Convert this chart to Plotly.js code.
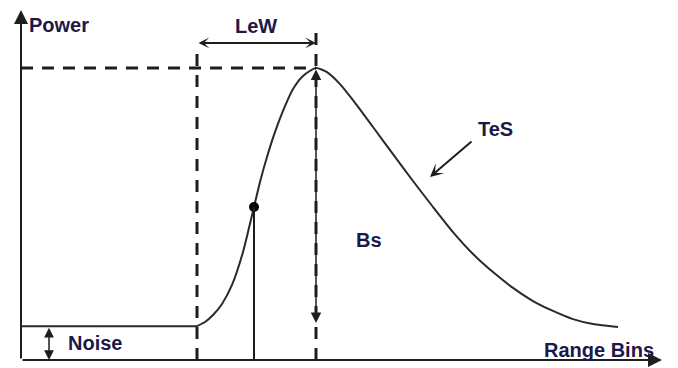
<!DOCTYPE html>
<html>
<head>
<meta charset="utf-8">
<script src="https://cdn.plot.ly/plotly-3.0.1.min.js"></script>
<style>html,body{margin:0;padding:0;background:#fff;}#chart{width:678px;height:368px;}</style>
</head>
<body>
<div id="chart"></div>
<script>
// Waveform (schematic units, peak power = 100)
const noiseBins  = [0, 17.6];
const noisePower = [11.6, 11.6];
const rangeBins = [17.6, 18.4, 19.2, 20.1, 21.1, 22.2, 23.3, 23.9, 24.6, 25.3, 26.2, 27.2, 28.2, 29.5, 30.6, 31.9, 33.2, 35.2, 37.2, 39.2, 41.2, 43.2, 45.2, 47.2, 49.2, 51.2, 53.2, 55.2, 57.2, 59.7];
const power     = [11.6, 13.0, 15.4, 19.2, 25.7, 37.0, 52.4, 61.0, 69.5, 77.1, 85.3, 92.8, 97.3, 100, 98.6, 94.5, 89.0, 79.8, 70.5, 61.3, 52.4, 43.8, 36.3, 30.1, 24.7, 20.2, 16.8, 14.0, 12.3, 11.3];

// Key waveform parameters
const noiseLevel = 11.6;
const leadingEdgeStart = 17.6;
const peakBin = 29.5;
const peakPower = 100;
const pointBin = 23.3;
const pointPower = 52.4;

// Axis extents (in data units)
const xAxisEnd = 64.1;
const yAxisEnd = 119.9;

// Labels
const labels = {
  power: "Power",
  rangeBins: "Range Bins",
  lew: "LeW",
  tes: "TeS",
  bs: "Bs",
  noise: "Noise"
};

const ink = "#1e1e1e";
const textColor = "#1c1848";
const dashPat = "12px,9px";
const font = {family: "Liberation Sans, Arial, sans-serif", size: 20, color: textColor};

const traces = [
  {
    x: noiseBins, y: noisePower, type: "scatter", mode: "lines",
    line: {color: "#2a2a2a", width: 2}, hoverinfo: "skip"
  },
  {
    x: rangeBins, y: power, type: "scatter", mode: "lines",
    line: {color: "#2a2a2a", width: 2, shape: "spline", smoothing: 0.6},
    hoverinfo: "skip"
  },
  {
    x: [pointBin], y: [pointPower], type: "scatter", mode: "markers",
    marker: {color: "#000", size: 10}, hoverinfo: "skip"
  }
];

const shapes = [
  {type: "line", xref: "x", yref: "y", x0: 0, x1: peakBin, y0: peakPower, y1: peakPower,
   line: {color: ink, width: 3, dash: dashPat}},
  {type: "line", xref: "x", yref: "y", x0: leadingEdgeStart, x1: leadingEdgeStart, y0: 0, y1: 107.5,
   line: {color: ink, width: 3, dash: dashPat}},
  {type: "line", xref: "x", yref: "y", x0: peakBin, x1: peakBin, y0: 0, y1: 112,
   line: {color: ink, width: 3, dash: dashPat}},
  {type: "line", xref: "x", yref: "y", x0: pointBin, x1: pointBin, y0: 0, y1: pointPower,
   line: {color: ink, width: 2}}
];

function arrow(xh, yh, xt, yt, opts) {
  return Object.assign({
    x: xh, y: yh, ax: xt, ay: yt, xref: "x", yref: "y", axref: "x", ayref: "y",
    showarrow: true, arrowhead: 3, arrowsize: 1, arrowwidth: 2, arrowcolor: ink,
    standoff: 0, startstandoff: 0, text: ""
  }, opts || {});
}

function label(txt, x, y, anchor) {
  return {x: x, y: y, xref: "x", yref: "y", text: "<b>" + txt + "</b>", showarrow: false,
          font: font, xanchor: anchor || "center", yanchor: "middle"};
}

const annotations = [
  arrow(0, yAxisEnd, 0, 0, {arrowhead: 2, arrowsize: 1.4}),
  arrow(xAxisEnd, 0, 0, 0, {arrowhead: 2, arrowsize: 1.4}),
  arrow(peakBin, 108.6, leadingEdgeStart, 108.6, {arrowside: "end+start", arrowsize: 0.9}),
  arrow(peakBin, 12.7, peakBin, peakPower, {arrowhead: 2, arrowside: "end+start", arrowwidth: 1.5, arrowsize: 1.4}),
  arrow(2.8, 0, 2.8, noiseLevel, {arrowhead: 2, arrowside: "end+start", arrowwidth: 1.5, arrowsize: 1.3}),
  arrow(40.9, 62.7, 45.2, 75.3, {arrowwidth: 2, arrowsize: 1.1}),
  label(labels.power, 0.6, 114.7, "left"),
  label(labels.lew, 23.5, 114.4),
  label(labels.tes, 47.4, 79.1),
  label(labels.bs, 34.8, 41.1),
  label(labels.noise, 7.4, 5.8),
  label(labels.rangeBins, 57.8, 3.3)
];

const layout = {
  width: 678, height: 368,
  margin: {l: 0, r: 0, t: 0, b: 0},
  paper_bgcolor: "#fff", plot_bgcolor: "#fff",
  showlegend: false,
  xaxis: {range: [-2.1, 65.7], visible: false, fixedrange: true},
  yaxis: {range: [-2.74, 123.29], visible: false, fixedrange: true},
  shapes: shapes,
  annotations: annotations
};

Plotly.newPlot("chart", traces, layout, {staticPlot: true, displayModeBar: false});
</script>
</body>
</html>
